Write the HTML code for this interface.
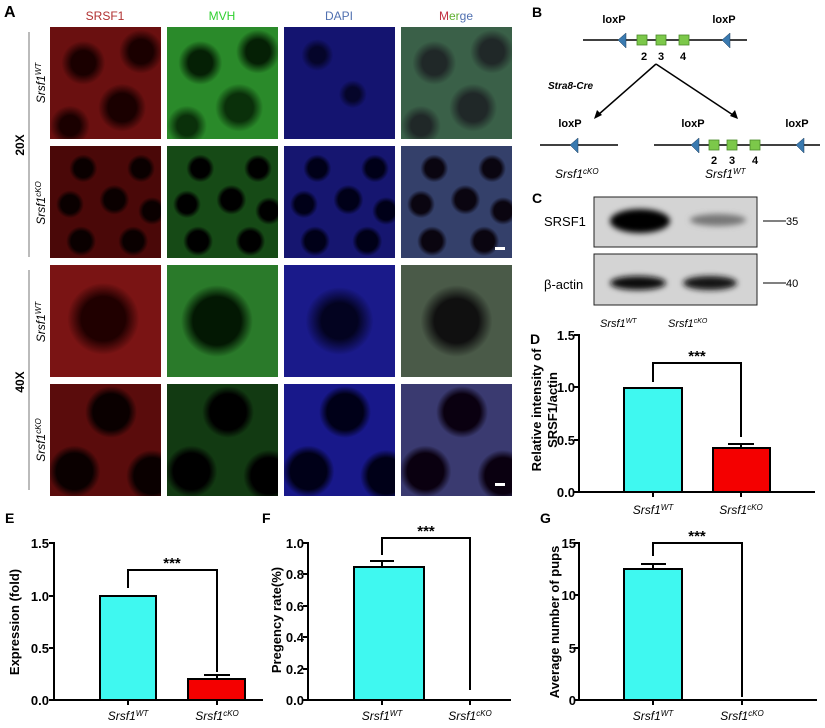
<!DOCTYPE html>
<html><head><meta charset="utf-8"><style>
body{margin:0;background:#fff;width:825px;height:728px;overflow:hidden;position:relative;font-family:"Liberation Sans",Arial,sans-serif}
.t{position:absolute;width:111px;height:112px}
</style></head><body>
<div class="t" style="left:50px;top:27px;background:radial-gradient(circle at 30% 32%,#1a0000 0 12px,transparent 22px),radial-gradient(circle at 82% 22%,#1a0000 0 12px,transparent 22px),radial-gradient(circle at 65% 72%,#1a0000 0 14px,transparent 24px),radial-gradient(circle at 18% 88%,#1a0000 0 10px,transparent 20px),#6a1010"></div>
<div class="t" style="left:167px;top:27px;background:radial-gradient(circle at 30% 32%,#052005 0 12px,transparent 22px),radial-gradient(circle at 82% 22%,#052005 0 12px,transparent 22px),radial-gradient(circle at 65% 72%,#0a300a 0 14px,transparent 24px),radial-gradient(circle at 18% 88%,#0a300a 0 10px,transparent 20px),#2a8a2a"></div>
<div class="t" style="left:284px;top:27px;background:radial-gradient(circle at 30% 25%,#05052a 0 8px,transparent 16px),radial-gradient(circle at 62% 60%,#05052a 0 7px,transparent 14px),#141470"></div>
<div class="t" style="left:401px;top:27px;background:radial-gradient(circle at 30% 32%,#202828 0 12px,transparent 22px),radial-gradient(circle at 82% 22%,#202828 0 12px,transparent 22px),radial-gradient(circle at 65% 72%,#202828 0 14px,transparent 24px),radial-gradient(circle at 18% 88%,#202828 0 10px,transparent 20px),#3a6048"></div>
<div class="t" style="left:50px;top:146px;background:radial-gradient(circle at 30% 20%,#0a0000 0 9px,transparent 14px),radial-gradient(circle at 82% 20%,#0a0000 0 9px,transparent 14px),radial-gradient(circle at 18% 52%,#0a0000 0 9px,transparent 14px),radial-gradient(circle at 58% 48%,#0a0000 0 10px,transparent 15px),radial-gradient(circle at 92% 58%,#0a0000 0 9px,transparent 14px),radial-gradient(circle at 28% 85%,#0a0000 0 10px,transparent 15px),radial-gradient(circle at 75% 85%,#0a0000 0 10px,transparent 15px),#4a0808"></div>
<div class="t" style="left:167px;top:146px;background:radial-gradient(circle at 30% 20%,#000 0 9px,transparent 14px),radial-gradient(circle at 82% 20%,#000 0 9px,transparent 14px),radial-gradient(circle at 18% 52%,#000 0 9px,transparent 14px),radial-gradient(circle at 58% 48%,#000 0 10px,transparent 15px),radial-gradient(circle at 92% 58%,#000 0 9px,transparent 14px),radial-gradient(circle at 28% 85%,#000 0 10px,transparent 15px),radial-gradient(circle at 75% 85%,#000 0 10px,transparent 15px),#164a16"></div>
<div class="t" style="left:284px;top:146px;background:radial-gradient(circle at 30% 20%,#000018 0 9px,transparent 14px),radial-gradient(circle at 82% 20%,#000018 0 9px,transparent 14px),radial-gradient(circle at 18% 52%,#000018 0 9px,transparent 14px),radial-gradient(circle at 58% 48%,#000018 0 10px,transparent 15px),radial-gradient(circle at 92% 58%,#000018 0 9px,transparent 14px),radial-gradient(circle at 28% 85%,#000018 0 10px,transparent 15px),radial-gradient(circle at 75% 85%,#000018 0 10px,transparent 15px),#161670"></div>
<div class="t" style="left:401px;top:146px;background:radial-gradient(circle at 30% 20%,#0a0510 0 9px,transparent 14px),radial-gradient(circle at 82% 20%,#0a0510 0 9px,transparent 14px),radial-gradient(circle at 18% 52%,#0a0510 0 9px,transparent 14px),radial-gradient(circle at 58% 48%,#0a0510 0 10px,transparent 15px),radial-gradient(circle at 92% 58%,#0a0510 0 9px,transparent 14px),radial-gradient(circle at 28% 85%,#0a0510 0 10px,transparent 15px),radial-gradient(circle at 75% 85%,#0a0510 0 10px,transparent 15px),#34406a"></div>
<div class="t" style="left:50px;top:265px;background:radial-gradient(circle at 48% 48%,#200000 0 22px,transparent 36px),#7a1414"></div>
<div class="t" style="left:167px;top:265px;background:radial-gradient(circle at 45% 50%,#031803 0 24px,transparent 36px),#2a7a2a"></div>
<div class="t" style="left:284px;top:265px;background:radial-gradient(circle at 50% 50%,#030320 0 18px,transparent 34px),#1a1a8a"></div>
<div class="t" style="left:401px;top:265px;background:radial-gradient(circle at 50% 50%,#101010 0 22px,transparent 36px),#4a5a48"></div>
<div class="t" style="left:50px;top:384px;background:radial-gradient(circle at 55% 25%,#0a0000 0 18px,transparent 26px),radial-gradient(circle at 22% 78%,#0a0000 0 18px,transparent 26px),radial-gradient(circle at 92% 82%,#0a0000 0 18px,transparent 26px),#5a0c0c"></div>
<div class="t" style="left:167px;top:384px;background:radial-gradient(circle at 55% 25%,#000 0 18px,transparent 26px),radial-gradient(circle at 22% 78%,#000 0 18px,transparent 26px),radial-gradient(circle at 92% 82%,#000 0 18px,transparent 26px),#123a12"></div>
<div class="t" style="left:284px;top:384px;background:radial-gradient(circle at 55% 25%,#000018 0 18px,transparent 26px),radial-gradient(circle at 22% 78%,#000018 0 18px,transparent 26px),radial-gradient(circle at 92% 82%,#000018 0 18px,transparent 26px),#18188a"></div>
<div class="t" style="left:401px;top:384px;background:radial-gradient(circle at 55% 25%,#0a0010 0 18px,transparent 26px),radial-gradient(circle at 22% 78%,#0a0010 0 18px,transparent 26px),radial-gradient(circle at 92% 82%,#0a0010 0 18px,transparent 26px),#3a3a70"></div>

<svg width="825" height="728" style="position:absolute;left:0;top:0" font-family="Liberation Sans, Arial, sans-serif">
<defs><filter id="bl" x="-50%" y="-50%" width="200%" height="200%"><feGaussianBlur stdDeviation="3"/></filter></defs>
<text x="4" y="17" font-size="16" font-weight="bold">A</text>
<g font-size="12" text-anchor="middle">
<text x="105" y="20" fill="#b03030">SRSF1</text>
<text x="222" y="20" fill="#30d030">MVH</text>
<text x="339" y="20" fill="#5070b0">DAPI</text>
<text x="456" y="20"><tspan fill="#c03040">M</tspan><tspan fill="#60b030">er</tspan><tspan fill="#5070b0">ge</tspan></text>
</g>
<line x1="29" y1="32" x2="29" y2="257" stroke="#777" stroke-width="1"/>
<line x1="29" y1="270" x2="29" y2="490" stroke="#777" stroke-width="1"/>
<g font-size="12" font-weight="bold" text-anchor="middle">
<text transform="translate(24,145) rotate(-90)">20X</text>
<text transform="translate(24,382) rotate(-90)">40X</text>
</g>
<g font-size="12" font-style="italic" text-anchor="middle">
<text transform="translate(45,83) rotate(-90)">Srsf1<tspan font-size="8" dy="-4">WT</tspan></text>
<text transform="translate(45,203) rotate(-90)">Srsf1<tspan font-size="8" dy="-4">cKO</tspan></text>
<text transform="translate(45,322) rotate(-90)">Srsf1<tspan font-size="8" dy="-4">WT</tspan></text>
<text transform="translate(45,440) rotate(-90)">Srsf1<tspan font-size="8" dy="-4">cKO</tspan></text>
</g>
<rect x="495" y="247" width="10" height="3" fill="#fff"/>
<rect x="495" y="483" width="10" height="3" fill="#fff"/>

<text x="532" y="17" font-size="14" font-weight="bold">B</text>
<g stroke="#000" stroke-width="1.5">
<line x1="583" y1="40" x2="747" y2="40"/>
<line x1="540" y1="145" x2="618" y2="145"/>
<line x1="654" y1="145" x2="820" y2="145"/>
<line x1="656" y1="64" x2="598" y2="115"/><line x1="656" y1="64" x2="733" y2="115"/>
</g>
<polygon points="594,119 602,115 597,110" fill="#000"/>
<polygon points="738,119 730,116 735,110" fill="#000"/>
<g fill="#3a7ab0" stroke="#1a3a5a" stroke-width="0.5">
<polygon points="618,40 626,33 626,48"/><polygon points="722,40 730,33 730,48"/>
<polygon points="570,145 578,138 578,153"/><polygon points="691,145 699,138 699,153"/><polygon points="796,145 804,138 804,153"/>
</g>
<g fill="#7cc84a" stroke="#4a8a2a" stroke-width="0.8">
<rect x="637" y="35" width="10" height="10"/><rect x="656" y="35" width="10" height="10"/><rect x="679" y="35" width="10" height="10"/>
<rect x="709" y="140" width="10" height="10"/><rect x="727" y="140" width="10" height="10"/><rect x="750" y="140" width="10" height="10"/>
</g>
<g font-size="11" font-weight="bold" text-anchor="middle">
<text x="644" y="60">2</text><text x="661" y="60">3</text><text x="683" y="60">4</text>
<text x="714" y="164">2</text><text x="732" y="164">3</text><text x="755" y="164">4</text>
<text x="614" y="23">loxP</text><text x="724" y="23">loxP</text>
<text x="570" y="127">loxP</text><text x="693" y="127">loxP</text><text x="797" y="127">loxP</text>
</g>
<text x="548" y="89" font-size="10" font-weight="bold" font-style="italic">Stra8-Cre</text>
<g font-size="12" font-style="italic">
<text x="555" y="178">Srsf1<tspan font-size="8" dy="-4">cKO</tspan></text>
<text x="705" y="178">Srsf1<tspan font-size="8" dy="-4">WT</tspan></text>
</g>

<text x="532" y="203" font-size="14" font-weight="bold">C</text>
<rect x="594" y="197" width="163" height="50" fill="#d4d4d4" stroke="#222"/>
<rect x="594" y="254" width="163" height="51" fill="#d4d4d4" stroke="#222"/>
<ellipse cx="640" cy="221" rx="30" ry="12" fill="#000" filter="url(#bl)"/>
<ellipse cx="718" cy="220" rx="28" ry="6" fill="#777" filter="url(#bl)"/>
<ellipse cx="638" cy="283" rx="28" ry="7" fill="#111" filter="url(#bl)"/>
<ellipse cx="710" cy="283" rx="27" ry="7" fill="#181818" filter="url(#bl)"/>
<text x="544" y="226" font-size="13">SRSF1</text>
<text x="544" y="289" font-size="13">β-actin</text>
<line x1="763" y1="221" x2="786" y2="221" stroke="#000"/><text x="786" y="225" font-size="11">35</text>
<line x1="763" y1="283" x2="786" y2="283" stroke="#000"/><text x="786" y="287" font-size="11">40</text>
<g font-size="11" font-style="italic">
<text x="600" y="327">Srsf1<tspan font-size="7" dy="-4">WT</tspan></text>
<text x="668" y="327">Srsf1<tspan font-size="7" dy="-4">cKO</tspan></text>
</g>

<!-- D -->
<text x="530" y="344" font-size="14" font-weight="bold">D</text>
<g stroke="#000" stroke-width="2" fill="none">
<line x1="579" y1="334" x2="579" y2="493"/><line x1="578" y1="492" x2="815" y2="492"/>
<line x1="574" y1="335" x2="579" y2="335"/><line x1="574" y1="387" x2="579" y2="387"/><line x1="574" y1="440" x2="579" y2="440"/><line x1="574" y1="492" x2="579" y2="492"/>
<rect x="624" y="388" width="58" height="104" fill="#3ff8f0"/>
<rect x="713" y="448" width="57" height="44" fill="#f40000"/>
<line x1="741" y1="448" x2="741" y2="444"/><line x1="728" y1="444" x2="754" y2="444"/>
<polyline points="653,382 653,363 741,363 741,437"/>
<line x1="653" y1="492" x2="653" y2="497"/><line x1="741" y1="492" x2="741" y2="497"/>
</g>
<text x="697" y="361" font-size="15" font-weight="bold" text-anchor="middle">***</text>
<g font-size="13" font-weight="bold" text-anchor="end">
<text x="575" y="340">1.5</text><text x="575" y="392">1.0</text><text x="575" y="445">0.5</text><text x="575" y="497">0.0</text>
</g>
<g font-size="13" font-weight="bold" text-anchor="middle">
<text transform="translate(541,410) rotate(-90)">Relative intensity of</text>
<text transform="translate(557,410) rotate(-90)">SRSF1/actin</text>
</g>
<g font-size="12" font-style="italic" text-anchor="middle">
<text x="653" y="514">Srsf1<tspan font-size="8" dy="-4">WT</tspan></text>
<text x="741" y="514">Srsf1<tspan font-size="8" dy="-4">cKO</tspan></text>
</g>

<!-- E -->
<text x="5" y="523" font-size="14" font-weight="bold">E</text>
<g stroke="#000" stroke-width="2" fill="none">
<line x1="54" y1="542" x2="54" y2="701"/><line x1="53" y1="700" x2="263" y2="700"/>
<line x1="49" y1="543" x2="54" y2="543"/><line x1="49" y1="596" x2="54" y2="596"/><line x1="49" y1="648" x2="54" y2="648"/><line x1="49" y1="700" x2="54" y2="700"/>
<rect x="100" y="596" width="56" height="104" fill="#3ff8f0"/>
<rect x="188" y="679" width="57" height="21" fill="#f40000"/>
<line x1="217" y1="679" x2="217" y2="675"/><line x1="204" y1="675" x2="230" y2="675"/>
<polyline points="128,588 128,570 217,570 217,672"/>
<line x1="128" y1="700" x2="128" y2="705"/><line x1="217" y1="700" x2="217" y2="705"/>
</g>
<text x="172" y="568" font-size="15" font-weight="bold" text-anchor="middle">***</text>
<g font-size="13" font-weight="bold" text-anchor="end">
<text x="49" y="548">1.5</text><text x="49" y="601">1.0</text><text x="49" y="653">0.5</text><text x="49" y="705">0.0</text>
</g>
<text transform="translate(19,622) rotate(-90)" font-size="13" font-weight="bold" text-anchor="middle">Expression (fold)</text>
<g font-size="12" font-style="italic" text-anchor="middle">
<text x="128" y="720">Srsf1<tspan font-size="8" dy="-4">WT</tspan></text>
<text x="217" y="720">Srsf1<tspan font-size="8" dy="-4">cKO</tspan></text>
</g>

<!-- F -->
<text x="262" y="523" font-size="14" font-weight="bold">F</text>
<g stroke="#000" stroke-width="2" fill="none">
<line x1="308" y1="542" x2="308" y2="701"/><line x1="307" y1="700" x2="511" y2="700"/>
<line x1="303" y1="543" x2="308" y2="543"/><line x1="303" y1="574" x2="308" y2="574"/><line x1="303" y1="606" x2="308" y2="606"/><line x1="303" y1="637" x2="308" y2="637"/><line x1="303" y1="669" x2="308" y2="669"/><line x1="303" y1="700" x2="308" y2="700"/>
<rect x="354" y="567" width="70" height="133" fill="#3ff8f0"/>
<line x1="382" y1="567" x2="382" y2="561"/><line x1="370" y1="561" x2="394" y2="561"/>
<polyline points="382,555 382,538 470,538 470,690"/>
<line x1="382" y1="700" x2="382" y2="705"/><line x1="470" y1="700" x2="470" y2="705"/>
</g>
<text x="426" y="536" font-size="15" font-weight="bold" text-anchor="middle">***</text>
<g font-size="13" font-weight="bold" text-anchor="end">
<text x="304" y="548">1.0</text><text x="304" y="579">0.8</text><text x="304" y="611">0.6</text><text x="304" y="642">0.4</text><text x="304" y="674">0.2</text><text x="304" y="705">0.0</text>
</g>
<text transform="translate(281,620) rotate(-90)" font-size="13" font-weight="bold" text-anchor="middle">Pregency rate(%)</text>
<g font-size="12" font-style="italic" text-anchor="middle">
<text x="382" y="720">Srsf1<tspan font-size="8" dy="-4">WT</tspan></text>
<text x="470" y="720">Srsf1<tspan font-size="8" dy="-4">cKO</tspan></text>
</g>

<!-- G -->
<text x="540" y="523" font-size="14" font-weight="bold">G</text>
<g stroke="#000" stroke-width="2" fill="none">
<line x1="579" y1="542" x2="579" y2="701"/><line x1="578" y1="700" x2="817" y2="700"/>
<line x1="574" y1="543" x2="579" y2="543"/><line x1="574" y1="595" x2="579" y2="595"/><line x1="574" y1="648" x2="579" y2="648"/><line x1="574" y1="700" x2="579" y2="700"/>
<rect x="624" y="569" width="58" height="131" fill="#3ff8f0"/>
<line x1="653" y1="569" x2="653" y2="564"/><line x1="641" y1="564" x2="666" y2="564"/>
<polyline points="653,556 653,543 742,543 742,697"/>
<line x1="653" y1="700" x2="653" y2="705"/><line x1="742" y1="700" x2="742" y2="705"/>
</g>
<text x="697" y="541" font-size="15" font-weight="bold" text-anchor="middle">***</text>
<g font-size="13" font-weight="bold" text-anchor="end">
<text x="576" y="548">15</text><text x="576" y="600">10</text><text x="576" y="653">5</text><text x="576" y="705">0</text>
</g>
<text transform="translate(559,622) rotate(-90)" font-size="13" font-weight="bold" text-anchor="middle">Average number of pups</text>
<g font-size="12" font-style="italic" text-anchor="middle">
<text x="653" y="720">Srsf1<tspan font-size="8" dy="-4">WT</tspan></text>
<text x="742" y="720">Srsf1<tspan font-size="8" dy="-4">cKO</tspan></text>
</g>
</svg>
</body></html>
